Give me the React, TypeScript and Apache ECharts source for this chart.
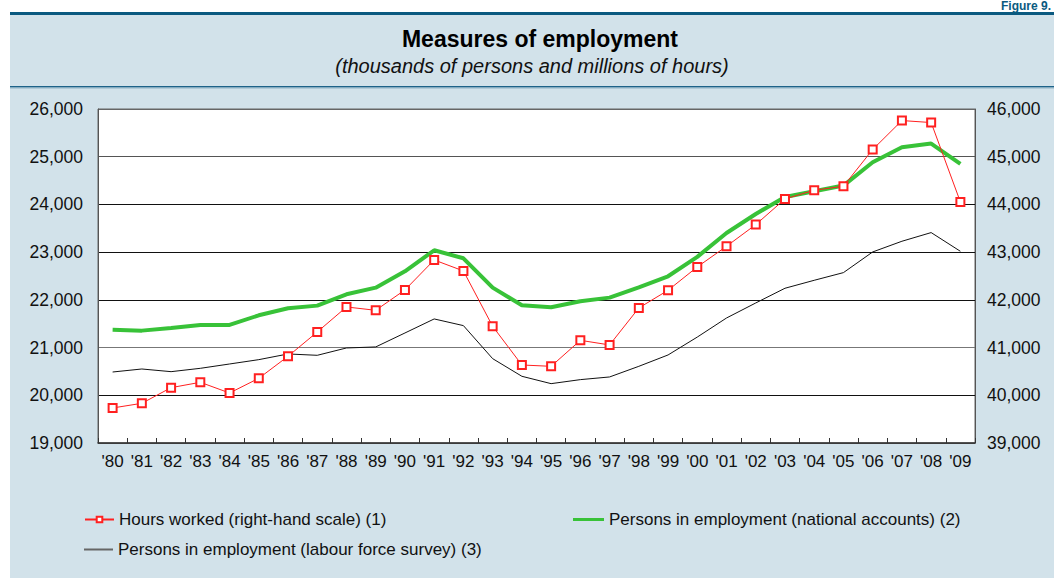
import React, { useEffect, useRef } from "react";
import * as echarts from "echarts";

const years = ["'80","'81","'82","'83","'84","'85","'86","'87","'88","'89","'90","'91","'92","'93","'94","'95","'96","'97","'98","'99","'00","'01","'02","'03","'04","'05","'06","'07","'08","'09"];

const hoursWorked = [39734,39832,40160,40272,40048,40356,40817,41327,41851,41781,42208,42836,42606,41446,40635,40607,41152,41055,41830,42201,42690,43123,43577,44115,44297,44381,45150,45758,45716,44052];

const personsNational = [21376,21355,21411,21474,21474,21676,21823,21879,22117,22256,22599,23039,22871,22256,21886,21844,21970,22047,22263,22494,22900,23402,23800,24157,24276,24395,24884,25199,25275,24849];

const personsLFS = [20488,20551,20495,20565,20656,20747,20866,20838,20992,21013,21306,21600,21460,20768,20398,20244,20328,20384,20607,20845,21220,21620,21935,22243,22410,22571,23004,23228,23410,23018];

const seriesNames = [
  "Hours worked (right-hand scale) (1)",
  "Persons in employment (national accounts) (2)",
  "Persons in employment (labour force survey) (3)",
];

const titleText = "Measures of employment";
const subtitleText = "(thousands of persons and millions of hours)";
const figureText = "Figure 9.";

const FONT = "'Liberation Sans', Arial, Helvetica, sans-serif";
const fmt = (v: number) => v.toLocaleString("en-US");

export default function App() {
  const ref = useRef<HTMLDivElement>(null);
  useEffect(() => {
    document.body.style.margin = "0";
    const chart = echarts.init(ref.current!, null, { renderer: "svg" });
    const legendText = { fontSize: 17, color: "#111", fontFamily: FONT };
    chart.setOption({
      animation: false,
      backgroundColor: "#d2e2ea",
      textStyle: { fontFamily: FONT },
      graphic: [
        { type: "rect", shape: { x: 0, y: 0, width: 1054, height: 12 }, style: { fill: "#ffffff" }, silent: true },
        { type: "rect", shape: { x: 0, y: 0, width: 10, height: 578 }, style: { fill: "#ffffff" }, silent: true },
        { type: "rect", shape: { x: 10, y: 12, width: 1044, height: 3 }, style: { fill: "#0b5a80" }, silent: true },
        { type: "rect", shape: { x: 10, y: 86, width: 1044, height: 1.5 }, style: { fill: "#1e6389" }, silent: true },
        { type: "rect", shape: { x: 10, y: 87.5, width: 1044, height: 1 }, style: { fill: "#8fb3c6" }, silent: true },
        {
          type: "text", x: 1051, y: 6,
          style: { text: figureText, fill: "#0b5a80", font: `bold 12px ${FONT}`, textAlign: "right", textVerticalAlign: "middle" },
        },
        {
          type: "text", x: 540, y: 39,
          style: { text: titleText, fill: "#000", font: `bold 23px ${FONT}`, textAlign: "center", textVerticalAlign: "middle" },
        },
        {
          type: "text", x: 532, y: 66,
          style: { text: subtitleText, fill: "#111", font: `italic 20px ${FONT}`, textAlign: "center", textVerticalAlign: "middle" },
        },
      ],
      grid: {
        left: 98, right: 79, top: 109, bottom: 135,
        show: true, backgroundColor: "#ffffff", borderColor: "#666", borderWidth: 1,
      },
      legend: [
        { left: 79, top: 506, data: [seriesNames[0]], itemWidth: 29, itemHeight: 7, textStyle: legendText },
        {
          left: 568, top: 506, itemWidth: 31, itemHeight: 3, textStyle: legendText,
          data: [{ name: seriesNames[1], icon: "rect", itemStyle: { color: "#38c238" } }],
        },
        {
          left: 79, top: 536, itemWidth: 29, itemHeight: 2, textStyle: legendText,
          data: [{ name: seriesNames[2], icon: "rect", itemStyle: { color: "#666" } }],
        },
      ],
      xAxis: {
        type: "category",
        data: years,
        boundaryGap: true,
        axisLine: { lineStyle: { color: "#333", width: 1.5 } },
        axisTick: { show: true, inside: true, length: 5, lineStyle: { color: "#333" } },
        axisLabel: { color: "#111", fontSize: 17, margin: 10, interval: 0, fontFamily: FONT },
        splitLine: { show: false },
      },
      yAxis: [
        {
          type: "value", min: 19000, max: 26000, interval: 1000, position: "left",
          axisLine: { show: true, lineStyle: { color: "#555" } },
          axisTick: { show: false },
          axisLabel: { color: "#111", fontSize: 17.5, margin: 15, formatter: fmt, fontFamily: FONT },
          splitLine: {
            show: true,
            lineStyle: { color: ["#555", "#111", "#777", "#111", "#111", "#111", "#555", "#666"], width: 1 },
          },
        },
        {
          type: "value", min: 39000, max: 46000, interval: 1000, position: "right",
          axisLine: { show: true, lineStyle: { color: "#555" } },
          axisTick: { show: false },
          axisLabel: { color: "#111", fontSize: 17.5, margin: 12, formatter: fmt, fontFamily: FONT },
          splitLine: { show: false },
        },
      ],
      series: [
        {
          name: seriesNames[2], type: "line", yAxisIndex: 0, data: personsLFS,
          symbol: "none", lineStyle: { color: "#111", width: 1 }, itemStyle: { color: "#666" }, z: 2,
        },
        {
          name: seriesNames[1], type: "line", yAxisIndex: 0, data: personsNational,
          symbol: "none", lineStyle: { color: "#38c238", width: 4 }, itemStyle: { color: "#38c238" }, z: 3,
        },
        {
          name: seriesNames[0], type: "line", yAxisIndex: 1, data: hoursWorked,
          symbol: "emptyRect", symbolSize: 8, showAllSymbol: true,
          lineStyle: { color: "#ff2020", width: 1 },
          itemStyle: { color: "#ff2020", borderColor: "#ff2020", borderWidth: 1 }, z: 4,
        },
      ],
    });
    return () => chart.dispose();
  }, []);
  return <div ref={ref} style={{ position: "fixed", left: 0, top: 0, width: 1054, height: 578 }} />;
}
